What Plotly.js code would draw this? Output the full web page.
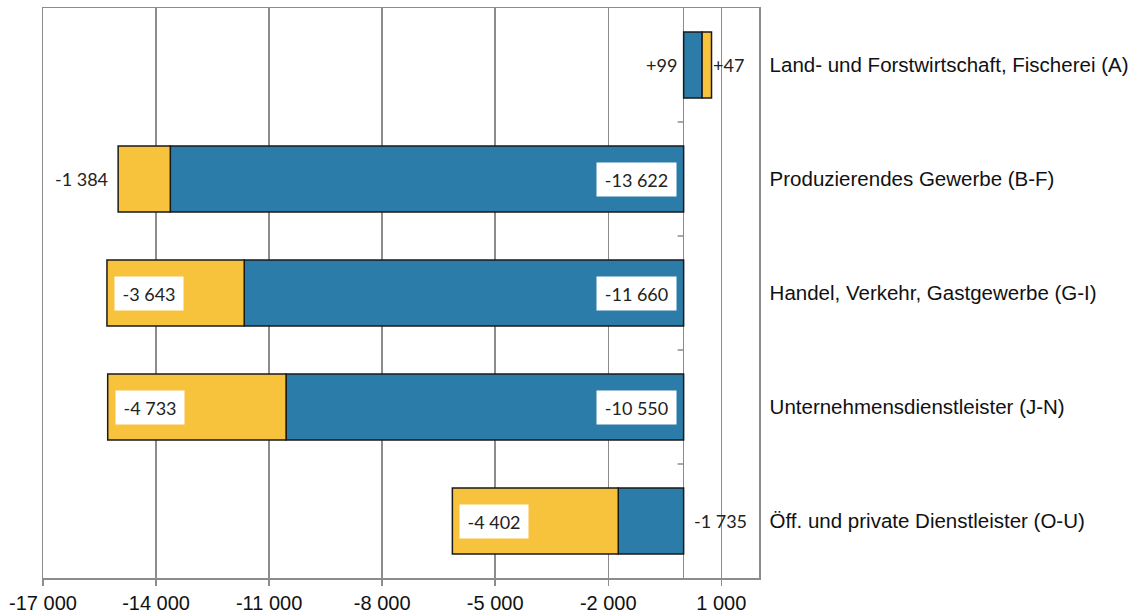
<!DOCTYPE html>
<html>
<head>
<meta charset="utf-8">
<script src="https://cdn.plot.ly/plotly-3.0.1.min.js"></script>
<style>html,body{margin:0;padding:0;background:#fff;}#chart{width:1136px;height:615px;}</style>
</head>
<body>
<div id="chart"></div>
<script>
// Categories (top to bottom)
const categories = [
  "Land- und Forstwirtschaft, Fischerei (A)",
  "Produzierendes Gewerbe (B-F)",
  "Handel, Verkehr, Gastgewerbe (G-I)",
  "Unternehmensdienstleister (J-N)",
  "Öff. und private Dienstleister (O-U)"
];
// Blue series (as drawn) and yellow series (as drawn)
const blueValues   = [490, -13622, -11660, -10550, -1735];
const yellowValues = [250, -1384, -3643, -4733, -4402];
// Data labels
const blueLabels   = ["+99", "-13 622", "-11 660", "-10 550", "-1 735"];
const yellowLabels = ["+47", "-1 384", "-3 643", "-4 733", "-4 402"];
// Axis ticks
const xTickVals = [-17000, -14000, -11000, -8000, -5000, -2000, 1000];
const xTickText = ["-17 000", "-14 000", "-11 000", "-8 000", "-5 000", "-2 000", "1 000"];

const BLUE = "#2b7ca8", YELLOW = "#f8c33c", GRID = "#8c8c8c";
const xRange = [-17000, 2000];
const yIdx = categories.map((c, i) => i);

const traces = [
  {type: "bar", orientation: "h", y: yIdx, x: blueValues, width: 0.58,
   marker: {color: BLUE, line: {color: "#1a1a1a", width: 1.5}}, hoverinfo: "skip"},
  {type: "bar", orientation: "h", y: yIdx, x: yellowValues, width: 0.58,
   marker: {color: YELLOW, line: {color: "#1a1a1a", width: 1.5}}, hoverinfo: "skip"}
];

const labFont = {family: "Lato, 'Open Sans', sans-serif", size: 18, color: "#222"};
const annotations = [];
const threshold = 2600;
categories.forEach((c, i) => {
  const b = blueValues[i], yv = yellowValues[i], tot = b + yv;
  if (Math.abs(b) > threshold) {
    annotations.push({x: 0, y: i, xref: "x", yref: "y", text: blueLabels[i], showarrow: false,
      xanchor: "right", xshift: -7, bgcolor: "#fff", borderpad: 0,
      width: Math.round(blueLabels[i].length * 11.3), height: 33, font: labFont});
  } else {
    annotations.push({x: 0, y: i, xref: "x", yref: "y", text: blueLabels[i], showarrow: false,
      xanchor: b < 0 ? "left" : "right", xshift: b < 0 ? 8 : -5, font: labFont});
  }
  if (Math.abs(yv) > threshold) {
    annotations.push({x: tot, y: i, xref: "x", yref: "y", text: yellowLabels[i], showarrow: false,
      xanchor: "left", xshift: 7, bgcolor: "#fff", borderpad: 0,
      width: Math.round(yellowLabels[i].length * 11.3), height: 33, font: labFont});
  } else {
    annotations.push({x: tot, y: i, xref: "x", yref: "y", text: yellowLabels[i], showarrow: false,
      xanchor: yv < 0 ? "right" : "left", xshift: yv < 0 ? -8 : -1, font: labFont});
  }
});

// small category-boundary ticks on the zero axis
const shapes = yIdx.slice(0, -1).map(i => ({
  type: "line", xref: "x", yref: "y", xsizemode: "pixel", xanchor: 0,
  x0: -6, x1: 0, y0: i + 0.5, y1: i + 0.5,
  line: {color: GRID, width: 1.5}
}));

const layout = {
  width: 1136, height: 615,
  margin: {l: 43, r: 377, t: 8, b: 37, pad: 0},
  paper_bgcolor: "#fff", plot_bgcolor: "#fff",
  barmode: "relative", showlegend: false,
  xaxis: {
    range: xRange, tickvals: xTickVals, ticktext: xTickText,
    showgrid: true, gridcolor: GRID, gridwidth: 1.5,
    zeroline: true, zerolinecolor: GRID, zerolinewidth: 1.5,
    showline: true, linecolor: GRID, linewidth: 1.5, mirror: true,
    ticks: "outside", ticklen: 6, tickcolor: GRID, tickwidth: 1.5,
    tickfont: {family: "'Liberation Sans', Arial, sans-serif", size: 20, color: "#111"},
    fixedrange: true
  },
  yaxis: {
    range: [4.5, -0.5], tickvals: yIdx, ticktext: categories,
    side: "right", ticks: "", showgrid: false, zeroline: false,
    showline: true, linecolor: GRID, linewidth: 1.5, mirror: true,
    ticklabelstandoff: 5,
    tickfont: {family: "'Liberation Sans', Arial, sans-serif", size: 20.5, color: "#111"},
    fixedrange: true
  },
  shapes: shapes,
  annotations: annotations
};

Plotly.newPlot("chart", traces, layout, {displayModeBar: false, staticPlot: true});
</script>
</body>
</html>
